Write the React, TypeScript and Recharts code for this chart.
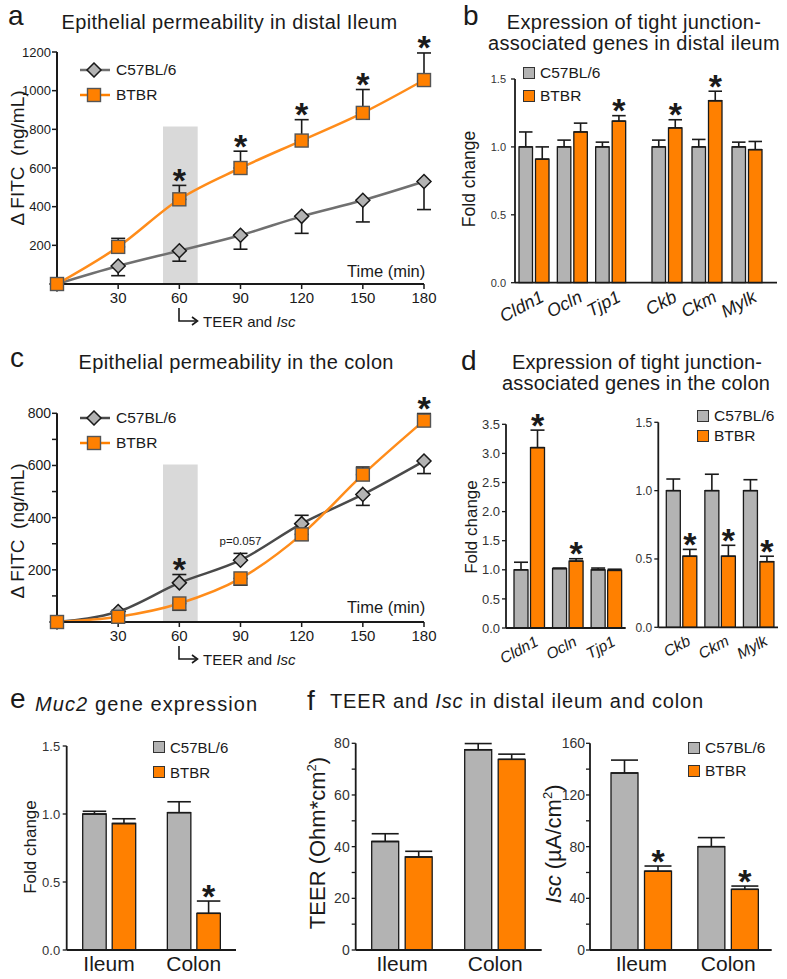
import React from 'react';
import {
  ComposedChart, Line, BarChart, Bar, XAxis, YAxis, ErrorBar, ReferenceArea, LabelList, Legend,
} from 'recharts';

const FONT = '"Liberation Sans", Arial, Helvetica, sans-serif';
const INK = '#1a1a1a';
const GRAY = '#b3b3b3';
const ORANGE = '#ff8000';

const strains = ['C57BL/6', 'BTBR'];
const strainFill = [GRAY, ORANGE];

// a, c: delta FITC (ng/mL) over time (min)
const minutes = [0, 30, 60, 90, 120, 150, 180];
const minuteTicks = [30, 60, 90, 120, 150, 180];
const measureWindow = [52, 69];

const ileumC57 = [0, 93, 172, 252, 350, 433, 530];
const ileumC57Lo = [0, 50, 54, 72, 88, 112, 145];
const ileumC57Hi = [0, 0, 0, 0, 0, 0, 0];
const ileumBtbr = [0, 192, 438, 600, 742, 885, 1055];
const ileumBtbrLo = [0, 0, 0, 0, 0, 0, 0];
const ileumBtbrHi = [0, 44, 72, 87, 108, 121, 140];
const ileumC57Marks = ['', '', '', '', '', '', ''];
const ileumBtbrMarks = ['', '', '*', '*', '*', '*', '*'];
const ileumFluxTicks = [200, 400, 600, 800, 1000, 1200];

const colonC57 = [0, 40, 150, 237, 377, 489, 617];
const colonC57Lo = [0, 8, 0, 0, 0, 42, 48];
const colonC57Hi = [0, 0, 32, 26, 32, 0, 0];
const colonBtbr = [0, 20, 71, 167, 336, 565, 772];
const colonBtbrLo = [0, 6, 26, 26, 23, 0, 0];
const colonBtbrHi = [0, 0, 0, 0, 0, 29, 27];
const colonC57Marks = ['', '', '*', 'p=0.057', '', '', ''];
const colonBtbrMarks = ['', '', '', '', '', '', '*'];
const colonFluxTicks = [100, 200, 300, 400, 500, 600, 700, 800];

// b: tight junction genes, distal ileum (fold change)
const ileumGenes = ['Cldn1', 'Ocln', 'Tjp1', 'Ckb', 'Ckm', 'Mylk'];
const ileumGeneC57 = [1.0, 1.0, 1.0, 1.0, 1.0, 1.0];
const ileumGeneC57Err = [0.11, 0.05, 0.035, 0.05, 0.055, 0.035];
const ileumGeneBtbr = [0.91, 1.11, 1.19, 1.14, 1.34, 0.98];
const ileumGeneBtbrErr = [0.09, 0.065, 0.04, 0.06, 0.07, 0.06];
const ileumGeneStars = [false, false, true, true, true, false];

// d: tight junction genes, colon
const colonGenesA = ['Cldn1', 'Ocln', 'Tjp1'];
const colonGeneAC57 = [1.0, 1.02, 1.0];
const colonGeneAC57Err = [0.13, 0.01, 0.03];
const colonGeneABtbr = [3.1, 1.15, 0.99];
const colonGeneABtbrErr = [0.3, 0.04, 0.02];
const colonGeneAStars = [true, true, false];

const colonGenesB = ['Ckb', 'Ckm', 'Mylk'];
const colonGeneBC57 = [1.0, 1.0, 1.0];
const colonGeneBC57Err = [0.085, 0.12, 0.08];
const colonGeneBBtbr = [0.52, 0.52, 0.48];
const colonGeneBBtbrErr = [0.05, 0.08, 0.04];
const colonGeneBStars = [true, true, true];

// e, f: tissues
const tissues = ['Ileum', 'Colon'];
const muc2C57 = [1.0, 1.01];
const muc2C57Err = [0.02, 0.08];
const muc2Btbr = [0.93, 0.27];
const muc2BtbrErr = [0.035, 0.09];
const muc2Stars = [false, true];

const teerC57 = [42, 77.5];
const teerC57Err = [3, 2.4];
const teerBtbr = [36, 73.8];
const teerBtbrErr = [2.2, 2];
const teerStars = [false, false];

const iscC57 = [137, 80];
const iscC57Err = [10, 7];
const iscBtbr = [61, 47];
const iscBtbrErr = [4, 2.5];
const iscStars = [true, true];

const foldTicks = [0, 0.5, 1, 1.5];
const foldTicksWide = [0, 0.5, 1, 1.5, 2, 2.5, 3, 3.5];
const teerTicks = [0, 10, 20, 30, 40, 50, 60, 70, 80];
const iscTicks = [0, 20, 40, 60, 80, 100, 120, 140, 160];

const Star = ({ x, y }: { x: number; y: number }) => (
  <text x={x} y={y + 6.5} textAnchor="middle" fontSize={34} fontWeight="bold" fontFamily={FONT} fill={INK}>*</text>
);

const markLabel = (marks: string[]) => (p: any) => {
  const m = marks[p.index];
  if (!m) return null;
  const x = p.x ?? p.viewBox?.x;
  const y = p.y ?? p.viewBox?.y;
  if (x == null || y == null) return null;
  if (m === '*') return <Star x={x} y={y} />;
  return (
    <text x={x} y={y - 8} textAnchor="middle" fontSize={11.5} fontFamily={FONT} fill={INK}>{m}</text>
  );
};

const barStar = (stars: boolean[], vals: number[], errs: number[]) => (p: any) => {
  if (!stars[p.index]) return null;
  const vb = p.viewBox ?? p;
  const { x, y, width, height } = vb;
  const top = y - (errs[p.index] * height) / vals[p.index];
  return <Star x={x + width / 2} y={top} />;
};

const diamondDot = (p: any) => {
  const { cx, cy, index } = p;
  const r = 7;
  return (
    <path key={`dm-${index}`} d={`M${cx},${cy - r}L${cx + r},${cy}L${cx},${cy + r}L${cx - r},${cy}Z`}
      fill={GRAY} stroke={INK} strokeWidth={1.5} />
  );
};

const squareDot = (p: any) => (
  <rect key={`sq-${p.index}`} x={p.cx - 6.5} y={p.cy - 6.5} width={13} height={13}
    fill={ORANGE} stroke="#555" strokeWidth={1.4} />
);

const LineKey = ({ c57Stroke }: { c57Stroke: string }) => (
  <div style={{ fontFamily: FONT, fontSize: 15.5, color: INK }}>
    {strains.map((s, i) => (
      <div key={s} style={{ display: 'flex', alignItems: 'center', height: 25 }}>
        <svg width={32} height={16} style={{ marginRight: 5 }}>
          <line x1={1} y1={8} x2={31} y2={8} stroke={i ? ORANGE : c57Stroke} strokeWidth={2.5} />
          {i ? (
            <rect x={8.5} y={1.5} width={13} height={13} fill={ORANGE} stroke="#555" strokeWidth={1.4} />
          ) : (
            <path d="M15,1 L22,8 L15,15 L8,8Z" fill={GRAY} stroke={INK} strokeWidth={1.5} />
          )}
        </svg>
        <span>{s}</span>
      </div>
    ))}
  </div>
);

const SwatchKey = ({ rowH, size }: { rowH: number; size: number }) => (
  <div style={{ fontFamily: FONT, fontSize: size, color: INK }}>
    {strains.map((s, i) => (
      <div key={s} style={{ display: 'flex', alignItems: 'center', height: rowH }}>
        <span style={{
          display: 'inline-block', width: 12, height: 12, boxSizing: 'border-box',
          background: strainFill[i], border: '1.3px solid #333', marginRight: 5,
        }} />
        <span>{s}</span>
      </div>
    ))}
  </div>
);

const geneTick = (dx: number, dy: number, size: number) => (p: any) => {
  const x = p.x + dx;
  const y = p.y + dy;
  return (
    <text x={x} y={y} transform={`rotate(-28 ${x} ${y})`} textAnchor="end" fontStyle="italic"
      fontSize={size} fontFamily={FONT} fill={INK}>{p.payload.value}</text>
  );
};

type FluxProps = {
  top: number; c57: number[]; c57Lo: number[]; c57Hi: number[];
  btbr: number[]; btbrLo: number[]; btbrHi: number[];
  c57Marks: string[]; btbrMarks: string[];
  yMax: number; yTicks: number[]; yLabelStep: number; shadeTop: number;
  marginTop: number; marginBottom: number; c57Stroke: string; yFont: number; legendTop: number;
};

function FluxPanel(p: FluxProps) {
  const rows = minutes.map((t, i) => ({
    t,
    c57: p.c57[i], c57Err: [p.c57Lo[i], p.c57Hi[i]], c57Top: p.c57[i] + p.c57Hi[i],
    btbr: p.btbr[i], btbrErr: [p.btbrLo[i], p.btbrHi[i]], btbrTop: p.btbr[i] + p.btbrHi[i],
  }));
  return (
    <div style={{ position: 'absolute', left: 0, top: p.top }}>
      <ComposedChart width={440} height={340} data={rows}
        margin={{ top: p.marginTop, right: 16, bottom: p.marginBottom, left: 0 }}>
        <ReferenceArea x1={measureWindow[0]} x2={measureWindow[1]} y1={0} y2={p.shadeTop}
          fill="#d9d9d9" fillOpacity={1} stroke="none" />
        <XAxis dataKey="t" type="number" domain={[0, 180]} ticks={minuteTicks} interval={0} height={30}
          tickSize={5} tickMargin={3} axisLine={{ stroke: INK, strokeWidth: 2 }}
          tickLine={{ stroke: INK, strokeWidth: 1.5 }} tick={{ fontSize: 15, fill: INK, fontFamily: FONT }} />
        <YAxis type="number" domain={[0, p.yMax]} ticks={p.yTicks} interval={0} width={57}
          tickFormatter={(v: number) => (v % p.yLabelStep === 0 ? String(v) : '')}
          tickSize={5} tickMargin={1} axisLine={{ stroke: INK, strokeWidth: 2 }}
          tickLine={{ stroke: INK, strokeWidth: 1.5 }} tick={{ fontSize: p.yFont, fill: INK, fontFamily: FONT }} />
        <Line dataKey="c57" type="monotone" stroke={p.c57Stroke} strokeWidth={2.5} dot={diamondDot}
          activeDot={false} isAnimationActive={false}>
          <ErrorBar dataKey="c57Err" direction="y" width={7} stroke={INK} strokeWidth={1.6} />
        </Line>
        <Line dataKey="btbr" type="monotone" stroke="#ff8c1a" strokeWidth={2.5} dot={squareDot}
          activeDot={false} isAnimationActive={false}>
          <ErrorBar dataKey="btbrErr" direction="y" width={7} stroke={INK} strokeWidth={1.6} />
        </Line>
        <Line dataKey="c57Top" stroke="none" dot={false} activeDot={false} isAnimationActive={false} legendType="none">
          <LabelList dataKey="c57Top" content={markLabel(p.c57Marks)} />
        </Line>
        <Line dataKey="btbrTop" stroke="none" dot={false} activeDot={false} isAnimationActive={false} legendType="none">
          <LabelList dataKey="btbrTop" content={markLabel(p.btbrMarks)} />
        </Line>
        <Legend layout="vertical" align="center" verticalAlign="middle"
          wrapperStyle={{ left: 79, top: p.legendTop, width: 'auto' }}
          content={() => <LineKey c57Stroke={p.c57Stroke} />} />
      </ComposedChart>
    </div>
  );
}

type BarProps = {
  left: number; top: number; width: number; height: number;
  margin: { top: number; right: number; bottom: number; left: number };
  cats: string[]; c57: number[]; c57Err: number[]; btbr: number[]; btbrErr: number[]; stars: boolean[];
  yMax: number; yTicks: number[]; yFmt: (v: number) => string; yWidth: number; yFont: number; yMargin: number;
  hideY?: boolean; barSize: number; barGap: number; xHeight: number;
  xPad?: { left: number; right: number }; tick: any; tickMargin?: number;
  legend?: { left: number; top: number; rowH: number; size: number };
};

function BarPanel(p: BarProps) {
  const rows = p.cats.map((name, i) => ({
    name,
    c57: p.c57[i], c57Err: [0, p.c57Err[i]],
    btbr: p.btbr[i], btbrErr: [0, p.btbrErr[i]],
  }));
  return (
    <div style={{ position: 'absolute', left: p.left, top: p.top }}>
      <BarChart width={p.width} height={p.height} data={rows} margin={p.margin} barGap={p.barGap} barSize={p.barSize}>
        <XAxis dataKey="name" height={p.xHeight} interval={0} padding={p.xPad ?? { left: 0, right: 0 }}
          tickLine={false} tickMargin={p.tickMargin ?? 2} axisLine={{ stroke: INK, strokeWidth: 1.8 }} tick={p.tick} />
        <YAxis hide={p.hideY} type="number" domain={[0, p.yMax]} ticks={p.yTicks} interval={0} width={p.yWidth}
          tickFormatter={p.yFmt} tickSize={4} tickMargin={p.yMargin}
          axisLine={{ stroke: INK, strokeWidth: 1.8 }} tickLine={{ stroke: INK, strokeWidth: 1.3 }}
          tick={{ fontSize: p.yFont, fill: '#333', fontFamily: FONT }} />
        <Bar dataKey="c57" fill={GRAY} stroke={INK} strokeWidth={1.3} isAnimationActive={false}>
          <ErrorBar dataKey="c57Err" direction="y" width={p.barSize / 2} stroke={INK} strokeWidth={1.6} />
        </Bar>
        <Bar dataKey="btbr" fill={ORANGE} stroke={INK} strokeWidth={1.3} isAnimationActive={false}>
          <ErrorBar dataKey="btbrErr" direction="y" width={p.barSize / 2} stroke={INK} strokeWidth={1.6} />
          <LabelList dataKey="btbr" content={barStar(p.stars, p.btbr, p.btbrErr)} />
        </Bar>
        {p.legend && (
          <Legend layout="vertical" align="center" verticalAlign="middle"
            wrapperStyle={{ left: p.legend.left, top: p.legend.top, width: 'auto' }}
            content={() => <SwatchKey rowH={p.legend!.rowH} size={p.legend!.size} />} />
        )}
      </BarChart>
    </div>
  );
}

const Txt = ({ x, y, size, children, style }: any) => (
  <div style={{
    position: 'absolute', left: x, top: y - size * 0.5, fontSize: size, lineHeight: 1,
    whiteSpace: 'pre', fontFamily: FONT, color: INK, ...style,
  }}>{children}</div>
);

const CTxt = (props: any) => <Txt {...props} style={{ transform: 'translateX(-50%)', ...props.style }} />;

const VTxt = ({ x, y, size, children }: any) => (
  <div style={{
    position: 'absolute', left: x, top: y, fontSize: size, lineHeight: 1, whiteSpace: 'pre',
    fontFamily: FONT, color: INK, transform: 'translate(-50%, -50%) rotate(-90deg)',
  }}>{children}</div>
);

const TeerNote = ({ top }: { top: number }) => (
  <>
    <svg width={30} height={24} style={{ position: 'absolute', left: 175, top }}>
      <path d="M4,4 V17 H21" fill="none" stroke={INK} strokeWidth={1.6} />
      <path d="M17,13 L22.5,17 L17,21" fill="none" stroke={INK} strokeWidth={1.6} />
    </svg>
    <Txt x={203} y={top + 17} size={15}>TEER and <i>Isc</i></Txt>
  </>
);

const fold = (v: number) => v.toFixed(1);

export default function App() {
  const geneB = geneTick(11, 10, 18);
  const geneD = geneTick(10, 9, 15.5);
  const tissueTick = { fontSize: 21, fill: INK, fontFamily: FONT };
  return (
    <div style={{
      position: 'absolute', left: 0, top: 0, width: 787, height: 979, background: '#fff',
      overflow: 'hidden', fontFamily: FONT, color: INK,
    }}>
      {/* a */}
      <Txt x={8} y={15.5} size={28}>a</Txt>
      <Txt x={61.5} y={21.7} size={20} style={{ letterSpacing: 0.35 }}>Epithelial permeability in distal Ileum</Txt>
      <VTxt x={17} y={158} size={19}>{'\u0394 FITC  (ng/mL)'}</VTxt>
      <FluxPanel top={0} c57={ileumC57} c57Lo={ileumC57Lo} c57Hi={ileumC57Hi}
        btbr={ileumBtbr} btbrLo={ileumBtbrLo} btbrHi={ileumBtbrHi}
        c57Marks={ileumC57Marks} btbrMarks={ileumBtbrMarks}
        yMax={1200} yTicks={ileumFluxTicks} yLabelStep={200} shadeTop={815}
        marginTop={52} marginBottom={26} c57Stroke="#707070" yFont={13} legendTop={57} />
      <Txt x={347} y={271} size={16.5}>Time (min)</Txt>
      <TeerNote top={304} />

      {/* b */}
      <Txt x={463} y={15.5} size={28}>b</Txt>
      <CTxt x={634} y={21.7} size={20} style={{ letterSpacing: 0.3 }}>Expression of tight junction-</CTxt>
      <CTxt x={634} y={42.8} size={20} style={{ letterSpacing: 0.3 }}>associated genes in distal ileum</CTxt>
      <VTxt x={470} y={178.5} size={17.5}>Fold change</VTxt>
      <BarPanel left={400} top={0} width={230} height={330}
        margin={{ top: 79, right: 0, bottom: 7.3, left: 70 }}
        cats={ileumGenes.slice(0, 3)} c57={ileumGeneC57.slice(0, 3)} c57Err={ileumGeneC57Err.slice(0, 3)}
        btbr={ileumGeneBtbr.slice(0, 3)} btbrErr={ileumGeneBtbrErr.slice(0, 3)} stars={ileumGeneStars.slice(0, 3)}
        yMax={1.5} yTicks={foldTicks} yFmt={fold} yWidth={45} yFont={11} yMargin={5}
        barSize={13.5} barGap={3} xHeight={40} tick={geneB}
        legend={{ left: 123, top: 61, rowH: 23.5, size: 15.5 }} />
      <BarPanel left={630} top={0} width={157} height={330}
        margin={{ top: 79, right: 10, bottom: 7.3, left: 0 }}
        cats={ileumGenes.slice(3)} c57={ileumGeneC57.slice(3)} c57Err={ileumGeneC57Err.slice(3)}
        btbr={ileumGeneBtbr.slice(3)} btbrErr={ileumGeneBtbrErr.slice(3)} stars={ileumGeneStars.slice(3)}
        yMax={1.5} yTicks={foldTicks} yFmt={fold} yWidth={0} yFont={11} yMargin={5} hideY
        barSize={13.5} barGap={3} xHeight={40} xPad={{ left: 17, right: 10 }} tick={geneB} />

      {/* c */}
      <Txt x={10} y={358} size={28}>c</Txt>
      <Txt x={78.5} y={361.7} size={20} style={{ letterSpacing: 0.36 }}>Epithelial permeability in the colon</Txt>
      <VTxt x={17} y={531} size={19}>{'\u0394 FITC  (ng/mL)'}</VTxt>
      <FluxPanel top={330} c57={colonC57} c57Lo={colonC57Lo} c57Hi={colonC57Hi}
        btbr={colonBtbr} btbrLo={colonBtbrLo} btbrHi={colonBtbrHi}
        c57Marks={colonC57Marks} btbrMarks={colonBtbrMarks}
        yMax={800} yTicks={colonFluxTicks} yLabelStep={200} shadeTop={604}
        marginTop={83.3} marginBottom={18} c57Stroke="#4a4a4a" yFont={14} legendTop={75} />
      <Txt x={347} y={607} size={16.5}>Time (min)</Txt>
      <TeerNote top={642} />

      {/* d */}
      <Txt x={461} y={361} size={28}>d</Txt>
      <CTxt x={637} y={361.7} size={20} style={{ letterSpacing: 0.15 }}>Expression of tight junction-</CTxt>
      <CTxt x={636} y={382.8} size={20} style={{ letterSpacing: 0.15 }}>associated genes in the colon</CTxt>
      <VTxt x={471} y={526.5} size={17}>Fold change</VTxt>
      <BarPanel left={400} top={330} width={240} height={340}
        margin={{ top: 94.3, right: 14.3, bottom: 2, left: 66 }}
        cats={colonGenesA} c57={colonGeneAC57} c57Err={colonGeneAC57Err}
        btbr={colonGeneABtbr} btbrErr={colonGeneABtbrErr} stars={colonGeneAStars}
        yMax={3.5} yTicks={foldTicksWide} yFmt={fold} yWidth={40} yFont={13} yMargin={2}
        barSize={14} barGap={2.5} xHeight={40} xPad={{ left: 4, right: 0 }} tick={geneD} />
      <BarPanel left={610} top={330} width={177} height={340}
        margin={{ top: 92.3, right: 9, bottom: 2.7, left: 8.3 }}
        cats={colonGenesB} c57={colonGeneBC57} c57Err={colonGeneBC57Err}
        btbr={colonGeneBBtbr} btbrErr={colonGeneBBtbrErr} stars={colonGeneBStars}
        yMax={1.5} yTicks={foldTicks} yFmt={fold} yWidth={40} yFont={12} yMargin={2}
        barSize={14} barGap={2.5} xHeight={40} xPad={{ left: 4, right: 0 }} tick={geneD}
        legend={{ left: 87, top: 75.5, rowH: 20.5, size: 15.5 }} />

      {/* e */}
      <Txt x={10} y={699} size={28}>e</Txt>
      <Txt x={35} y={704} size={20} style={{ letterSpacing: 1.1 }}><i>Muc2</i> gene expression</Txt>
      <VTxt x={30} y={846.5} size={17}>Fold change</VTxt>
      <BarPanel left={0} top={660} width={250} height={319}
        margin={{ top: 86, right: 14, bottom: 4, left: 26.7 }}
        cats={tissues} c57={muc2C57} c57Err={muc2C57Err} btbr={muc2Btbr} btbrErr={muc2BtbrErr} stars={muc2Stars}
        yMax={1.5} yTicks={foldTicks} yFmt={fold} yWidth={40} yFont={13} yMargin={2.5}
        barSize={23.5} barGap={6} xHeight={25} tick={tissueTick} tickMargin={0}
        legend={{ left: 153, top: 74.5, rowH: 25, size: 15 }} />

      {/* f */}
      <Txt x={307} y={700.5} size={28}>f</Txt>
      <Txt x={330} y={700.7} size={20} style={{ letterSpacing: 0.83 }}>TEER and <i>Isc</i> in distal ileum and colon</Txt>
      <VTxt x={316.7} y={842.5} size={22}>TEER (Ohm*cm<sup style={{ fontSize: 13 }}>2</sup>)</VTxt>
      <BarPanel left={260} top={660} width={290} height={319}
        margin={{ top: 83.3, right: 8.3, bottom: 4, left: 60.7 }}
        cats={tissues} c57={teerC57} c57Err={teerC57Err} btbr={teerBtbr} btbrErr={teerBtbrErr} stars={teerStars}
        yMax={80} yTicks={teerTicks} yFmt={(v) => (v % 20 === 0 ? String(v) : '')} yWidth={35} yFont={14} yMargin={2}
        barSize={27} barGap={6.5} xHeight={25} tick={tissueTick} tickMargin={0} />
      <VTxt x={553} y={844} size={22}><i>Isc</i> ({'\u00b5'}A/cm<sup style={{ fontSize: 13 }}>2</sup>)</VTxt>
      <BarPanel left={550} top={660} width={237} height={319}
        margin={{ top: 83.3, right: 15.3, bottom: 4, left: 5 }}
        cats={tissues} c57={iscC57} c57Err={iscC57Err} btbr={iscBtbr} btbrErr={iscBtbrErr} stars={iscStars}
        yMax={160} yTicks={iscTicks} yFmt={(v) => (v % 40 === 0 ? String(v) : '')} yWidth={35} yFont={14} yMargin={1}
        barSize={27} barGap={6.5} xHeight={25} xPad={{ left: 8, right: 0 }} tick={tissueTick} tickMargin={0}
        legend={{ left: 138, top: 75.75, rowH: 23.5, size: 15.5 }} />
    </div>
  );
}
